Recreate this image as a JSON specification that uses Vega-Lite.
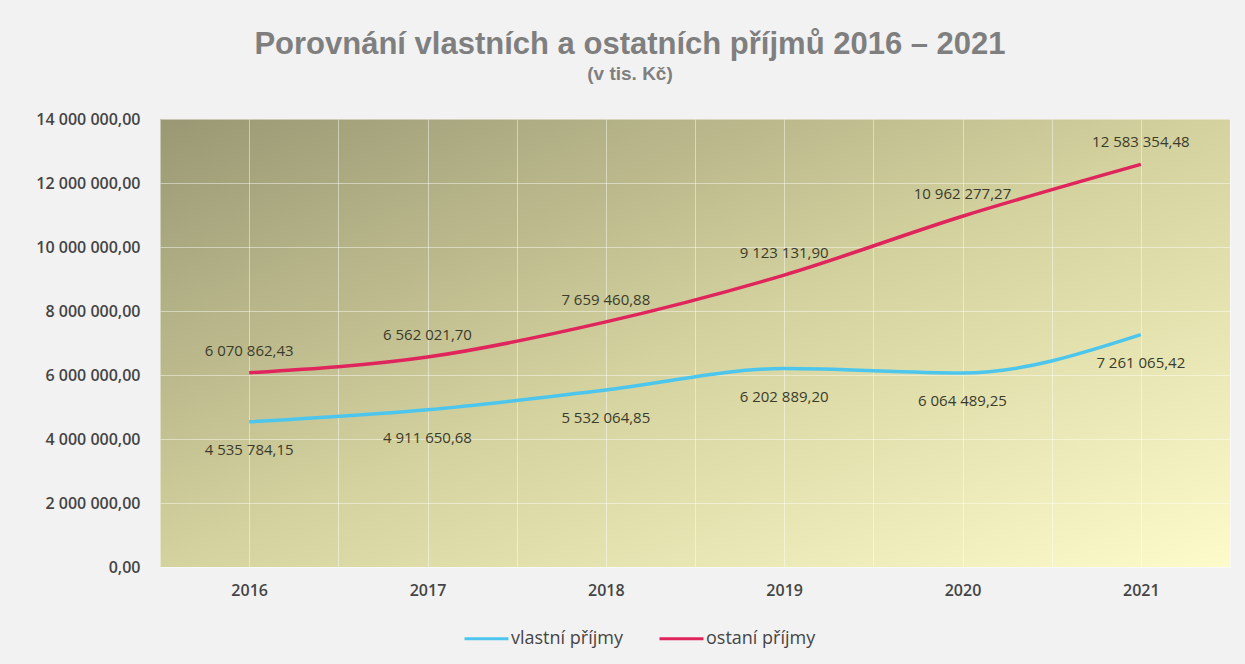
{
  "$schema": "https://vega.github.io/schema/vega-lite/v6.json",
  "width": 1070,
  "height": 448,
  "autosize": {"type": "none"},
  "padding": {"left": 160, "top": 119, "right": 15, "bottom": 97},
  "background": "#f2f2f2",
  "config": {
    "locale": {"number": {"decimal": ",", "thousands": "\u00a0", "grouping": [3], "currency": ["", " Kč"]}},
    "view": {
      "stroke": null,
      "fill": {"gradient": "linear", "x1": 0, "y1": 0, "x2": 1, "y2": 1,
        "stops": [{"offset": 0, "color": "#9a9874"}, {"offset": 0.5, "color": "#d4d29e"}, {"offset": 1, "color": "#fdfbca"}]}
    },
    "font": "Open Sans"
  },
  "title": {
    "text": "Porovnání vlastních a ostatních příjmů  2016 – 2021",
    "subtitle": "(v tis. Kč)",
    "font": "Liberation Sans",
    "fontSize": 31,
    "fontWeight": "bold",
    "color": "#7f7f7f",
    "subtitleFont": "Liberation Sans",
    "subtitleFontSize": 19,
    "subtitleFontWeight": "bold",
    "subtitleColor": "#7f7f7f",
    "subtitlePadding": 4,
    "anchor": "middle",
    "dx": -65,
    "offset": 26
  },
  "data": {
    "values": [
      {"rok": 2016, "typ": "vlastní příjmy", "hodnota": 4535784.15},
      {"rok": 2017, "typ": "vlastní příjmy", "hodnota": 4911650.68},
      {"rok": 2018, "typ": "vlastní příjmy", "hodnota": 5532064.85},
      {"rok": 2019, "typ": "vlastní příjmy", "hodnota": 6202889.20},
      {"rok": 2020, "typ": "vlastní příjmy", "hodnota": 6064489.25},
      {"rok": 2021, "typ": "vlastní příjmy", "hodnota": 7261065.42},
      {"rok": 2016, "typ": "ostaní příjmy", "hodnota": 6070862.43},
      {"rok": 2017, "typ": "ostaní příjmy", "hodnota": 6562021.70},
      {"rok": 2018, "typ": "ostaní příjmy", "hodnota": 7659460.88},
      {"rok": 2019, "typ": "ostaní příjmy", "hodnota": 9123131.90},
      {"rok": 2020, "typ": "ostaní příjmy", "hodnota": 10962277.27},
      {"rok": 2021, "typ": "ostaní příjmy", "hodnota": 12583354.48}
    ]
  },
  "encoding": {
    "x": {
      "field": "rok", "type": "quantitative",
      "scale": {"domain": [2015.5, 2021.5], "nice": false, "zero": false},
      "axis": {
        "title": null,
        "values": [2015.5, 2016, 2016.5, 2017, 2017.5, 2018, 2018.5, 2019, 2019.5, 2020, 2020.5, 2021, 2021.5],
        "labelExpr": "datum.value % 1 == 0 ? format(datum.value, 'd') : ''",
        "labelOverlap": false,
        "grid": true, "gridColor": "#ffffff", "gridOpacity": 0.45,
        "ticks": false, "domain": false,
        "labelFontSize": 16, "labelFontWeight": 600, "labelColor": "#454545", "labelPadding": 15
      }
    },
    "y": {
      "field": "hodnota", "type": "quantitative",
      "scale": {"domain": [0, 14000000], "nice": false},
      "axis": {
        "title": null,
        "values": [0, 2000000, 4000000, 6000000, 8000000, 10000000, 12000000, 14000000],
        "format": ",.2f",
        "grid": true, "gridColor": "#ffffff", "gridOpacity": 0.45,
        "ticks": false, "domain": false,
        "labelFontSize": 16, "labelFontWeight": 600, "labelColor": "#454545", "labelPadding": 20
      }
    },
    "color": {
      "field": "typ", "type": "nominal",
      "scale": {"domain": ["vlastní příjmy", "ostaní příjmy"], "range": ["#4cc6ec", "#e0245c"]},
      "legend": {
        "title": null, "orient": "none", "legendX": 303, "legendY": 496, "direction": "horizontal",
        "symbolType": "stroke", "symbolSize": 1936, "symbolStrokeWidth": 3,
        "labelFontSize": 18, "labelColor": "#454545", "labelOffset": 1, "columnPadding": 30, "labelLimit": 300
      }
    }
  },
  "layer": [
    {"mark": {"type": "line", "interpolate": "monotone", "strokeWidth": 3.5}},
    {
      "transform": [{"filter": "datum.typ == 'ostaní příjmy'"}],
      "mark": {"type": "text", "dy": -22, "fontSize": 15},
      "encoding": {"text": {"field": "hodnota", "type": "quantitative", "format": ",.2f"}, "color": {"value": "#3b3b2b"}}
    },
    {
      "transform": [{"filter": "datum.typ == 'vlastní příjmy'"}],
      "mark": {"type": "text", "dy": 28, "fontSize": 15},
      "encoding": {"text": {"field": "hodnota", "type": "quantitative", "format": ",.2f"}, "color": {"value": "#3b3b2b"}}
    }
  ]
}
